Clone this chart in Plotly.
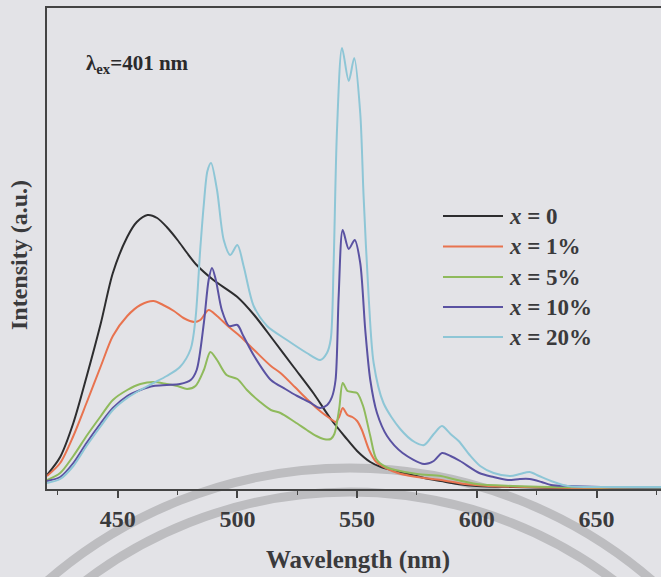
import plotly.graph_objects as go

# ---------------- data ----------------
wl_0 = [420.5, 426, 431.5, 437, 443, 448, 454, 458, 462.5, 466.5, 470.5, 475, 479, 483, 490, 500, 507,
        515, 523.5, 532, 539, 545, 550, 555.5, 560, 568, 578, 585, 592, 600, 615, 640, 677]
int_0 = [14, 32, 66, 112, 166, 216, 252, 267, 274, 271, 262, 249, 236, 224, 209, 192, 174,
         149, 122, 95, 70, 52, 38, 27, 22, 17, 11, 8, 5, 3, 2, 1, 1]

wl_1 = [420.5, 426, 431.5, 437, 443, 448, 454, 459.5, 465, 469, 473.5, 477.5, 482, 484.5, 488, 491.5, 496,
        501, 507, 514, 518, 524, 529, 535, 539, 541, 542.5, 544, 546, 548, 550, 552, 555, 558, 562, 567,
        575, 585, 595, 605, 620, 640, 677]
int_1 = [13, 26, 53, 86, 123, 153, 173, 184, 188, 184, 178, 171, 167, 169, 179, 173, 163,
         153, 139, 123, 116, 102, 90, 77, 70, 67, 72, 81, 74, 72, 68, 59, 39, 27, 21, 16,
         12, 9, 5, 3, 2, 1, 1]

wl_5 = [420.5, 426, 431.5, 437, 443, 448, 454, 459.5, 465, 470.5, 475, 479, 482.5, 486, 488.7, 491.5, 495.5,
        500, 504, 509.5, 514, 518, 524, 529, 533, 536, 539, 540.5, 542.5, 544, 546, 548, 550, 552.5, 555.5,
        558, 562, 566, 575, 585, 590, 600, 615, 630, 677]
int_5 = [9, 16, 33, 53, 73, 89, 99, 105, 107, 105, 103, 100, 103, 119, 137, 129, 114,
         110, 99, 87, 79, 76, 67, 59, 53, 50, 50, 55, 80, 106, 98, 97, 96, 83, 53,
         30, 22, 19, 15, 13, 10, 5, 3, 2, 1]

wl_10 = [420.5, 426, 431.5, 437, 443, 448, 454, 459.5, 465, 470.5, 476, 480.5, 483, 486, 488, 489.4, 491,
         493.5, 496.5, 500, 502.5, 507, 514, 520, 525, 530, 534.5, 537.5, 539.5, 541, 542.3, 544, 546.5,
         549, 551.3, 553.4, 555.5, 558.3, 562.5, 569, 578, 582, 585.5, 589, 593, 601, 607, 613, 618, 622,
         627, 631, 638, 652, 677]
int_10 = [8, 12, 26, 46, 66, 81, 93, 99, 103, 104, 105, 109, 119, 166, 209, 221, 209,
          179, 163, 164, 153, 133, 109, 100, 93, 87, 81, 84, 92, 109, 193, 259, 240,
          249, 226, 159, 109, 76, 53, 36, 25, 28, 36, 33, 28, 16, 12, 9, 10, 10,
          7, 4, 3, 2, 1.5]

wl_20 = [420.5, 426, 431.5, 437, 443, 448, 454, 459.5, 465, 470.5, 476, 480.5, 482.5, 484.5, 486, 487.5, 489,
         491.5, 494.3, 497, 500, 502.6, 506.8, 512.4, 520.7, 529, 534.6, 537.4, 539, 540.2, 541.6, 543.7,
         546.5, 548.8, 551.3, 552.7, 554.8, 556.9, 561, 568, 574, 578, 582, 585.4, 589, 592.4, 597, 601.4,
         607, 614, 618, 622, 626, 631, 638, 652, 677]
int_20 = [6, 10, 23, 43, 63, 79, 91, 99, 106, 113, 122, 140, 170, 240, 285, 318, 326,
          299, 249, 234, 244, 223, 183, 163, 149, 136, 129, 136, 150, 226, 359, 441,
          408, 431, 376, 293, 193, 126, 86, 60, 47, 44, 55, 63, 55, 48, 34, 23,
          16, 13, 15, 17, 13, 8, 3, 2, 2]

series_names = ["x = 0", "x = 1%", "x = 5%", "x = 10%", "x = 20%"]
legend_labels = ["<i>x</i> = 0", "<i>x</i> = 1%", "<i>x</i> = 5%", "<i>x</i> = 10%", "<i>x</i> = 20%"]
colors = ["#2d2d2f", "#e8734f", "#8fba5c", "#5a52a2", "#8ec6d6"]
x_ticks = [450, 500, 550, 600, 650]

wls = [wl_0, wl_1, wl_5, wl_10, wl_20]
ints = [int_0, int_1, int_5, int_10, int_20]

# ---------------- figure ----------------
W, H = 661, 577
ML, MR, MT, MB = 47, 0, 8, 88
PW, PH = W - ML - MR, H - MT - MB
BG = "#e3e3e7"
SERIF = "Liberation Serif"
TXT = "#3a3a3c"

def px_x(p):
    return (p - ML) / PW

def px_y(p):
    return (H - MB - p) / PH

fig = go.Figure()

for i in range(5):
    fig.add_trace(go.Scatter(
        x=wls[i], y=ints[i], mode="lines", name=series_names[i],
        line=dict(color=colors[i], width=2, shape="spline", smoothing=0.8),
        showlegend=False, hoverinfo="x+y+name"))

shapes = []
annotations = []

# legend drawn by hand (long line samples as in the reference)
leg_y = [216, 246.5, 277, 307, 337]
for i in range(5):
    shapes.append(dict(type="line", xref="paper", yref="paper",
                       x0=px_x(443), x1=px_x(503), y0=px_y(leg_y[i]), y1=px_y(leg_y[i]),
                       line=dict(color=colors[i], width=2)))
    annotations.append(dict(xref="paper", yref="paper", x=px_x(507), y=px_y(leg_y[i]),
                            xanchor="left", yanchor="middle", showarrow=False,
                            text=legend_labels[i],
                            font=dict(family=SERIF, size=23, color=TXT, weight="bold")))

# excitation label
annotations.append(dict(xref="paper", yref="paper", x=px_x(84), y=px_y(64),
                        xanchor="left", yanchor="middle", showarrow=False,
                        text="λ<sub>ex</sub>=401 nm",
                        font=dict(family=SERIF, size=21, color="#2a2a2c", weight="bold")))

# axis titles
annotations.append(dict(xref="paper", yref="paper", x=px_x(19), y=px_y(255),
                        xanchor="center", yanchor="middle", showarrow=False, textangle=-90,
                        text="Intensity (a.u.)",
                        font=dict(family=SERIF, size=24, color=TXT, weight="bold")))
annotations.append(dict(xref="paper", yref="paper", x=px_x(358), y=px_y(560),
                        xanchor="center", yanchor="middle", showarrow=False,
                        text="Wavelength (nm)",
                        font=dict(family=SERIF, size=25, color=TXT, weight="bold")))

# watermark arcs from the scanned page
for (cx, cy, r) in [(350, 930, 462), (350, 930, 438)]:
    shapes.append(dict(type="circle", xref="paper", yref="paper", layer="below",
                       x0=px_x(cx - r), x1=px_x(cx + r), y0=px_y(cy + r), y1=px_y(cy - r),
                       line=dict(color="#bdbdc0", width=9)))

fig.update_layout(
    width=W, height=H,
    margin=dict(l=ML, r=MR, t=MT, b=MB, pad=0, autoexpand=False),
    paper_bgcolor=BG, plot_bgcolor=BG,
    shapes=shapes, annotations=annotations,
    showlegend=False,
    xaxis=dict(range=[420.5, 676.9], tickvals=x_ticks, ticktext=[str(v) for v in x_ticks],
               automargin=False,
               ticks="outside", ticklen=7, tickwidth=1.5, tickcolor="#444",
               showline=True, linecolor="#444", linewidth=1.5, mirror=True,
               showgrid=False, zeroline=False,
               minor=dict(dtick=25, tick0=425, ticks="outside", ticklen=4, tickwidth=1.2,
                          tickcolor="#444", showgrid=False),
               tickfont=dict(family=SERIF, size=24, color=TXT, weight="bold")),
    yaxis=dict(range=[0, PH], automargin=False, showticklabels=False, ticks="",
               showgrid=False, zeroline=False,
               showline=True, linecolor="#444", linewidth=1.5, mirror=False),
)

fig.write_html(
    "out.html",
    config={"displayModeBar": False},
    post_script="document.body.style.margin='0';document.body.style.background='#e3e3e7';",
)
